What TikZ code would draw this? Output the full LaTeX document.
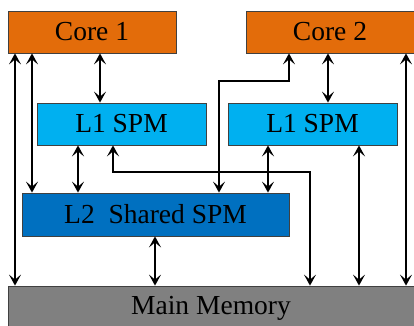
\documentclass[tikz,border=0pt]{standalone}
\usepackage{fontspec}
\setmainfont{Liberation Serif}
\usetikzlibrary{arrows.meta}
\definecolor{coreorange}{HTML}{E36C0A}
\definecolor{lonecyan}{HTML}{00B0F0}
\definecolor{ltwoblue}{HTML}{0070C0}
\definecolor{memgray}{HTML}{808080}
\definecolor{edgegray}{HTML}{404040}
\tikzset{
  blockbox/.style={draw=edgegray, line width=0.8pt, rectangle, inner sep=0pt,
    font=\fontsize{27.5}{30}\selectfont},
  blocktext/.style={inner sep=0pt, font=\fontsize{27.5}{30}\selectfont},
  linkhead/.tip={Stealth[length=11pt,width=12pt,inset=5pt]},
  dlink/.style={draw=black, line width=2.8pt, linkhead-linkhead}
}
\begin{document}
\begin{tikzpicture}[x=1pt,y=-1pt]
\useasboundingbox (0,0) rectangle (414,325);
\clip (0,0) rectangle (414,325);

% blocks
\node[blockbox, fill=coreorange, minimum width=168pt, minimum height=42pt] (core1) at (92,32) {Core 1};
\node[blockbox, fill=coreorange, minimum width=168pt, minimum height=42pt] (core2) at (330,32) {Core 2};
\node[blockbox, fill=lonecyan, minimum width=169pt, minimum height=42pt] (l1a) at (121.5,124) {L1 SPM};
\node[blockbox, fill=lonecyan, minimum width=169pt, minimum height=42pt] (l1b) at (312.5,124) {L1 SPM};
\node[blockbox, fill=ltwoblue, minimum width=267pt, minimum height=43pt] (l2) at (155.5,214.5) {L2\ \ Shared SPM};
\node[blockbox, fill=memgray, minimum width=416pt, minimum height=48pt] (mem) at (216,310) {};
\node[blocktext] (memtext) at (211,308) {Main Memory};

% columns of the connectors
\coordinate (xa) at (15,0);
\coordinate (xb) at (32,0);
\coordinate (xc) at (78,0);
\coordinate (xd) at (100,0);
\coordinate (xe) at (113,0);
\coordinate (xf) at (155,0);
\coordinate (xg) at (219,0);
\coordinate (xh) at (268,0);
\coordinate (xi) at (289,0);
\coordinate (xj) at (310,0);
\coordinate (xk) at (328,0);
\coordinate (xl) at (359,0);
\coordinate (xm) at (406,0);
\coordinate (ya) at (0,81);
\coordinate (yb) at (0,172);

% connectors
\draw[dlink] (xa |- core1.south) -- (xa |- mem.north);
\draw[dlink] (xb |- core1.south) -- (xb |- l2.north);
\draw[dlink] (xd |- core1.south) -- (xd |- l1a.north);
\draw[dlink] (xc |- l1a.south) -- (xc |- l2.north);
\draw[dlink] (xe |- l1a.south) -- (xe |- yb) -- (xj |- yb) -- (xj |- mem.north);
\draw[dlink] (xi |- core2.south) -- (xi |- ya) -- (xg |- ya) -- (xg |- l2.north);
\draw[dlink] (xk |- core2.south) -- (xk |- l1b.north);
\draw[dlink] (xm |- core2.south) -- (xm |- mem.north);
\draw[dlink] (xh |- l1b.south) -- (xh |- l2.north);
\draw[dlink] (xl |- l1b.south) -- (xl |- mem.north);
\draw[dlink] (xf |- l2.south) -- (xf |- mem.north);
\end{tikzpicture}
\end{document}
